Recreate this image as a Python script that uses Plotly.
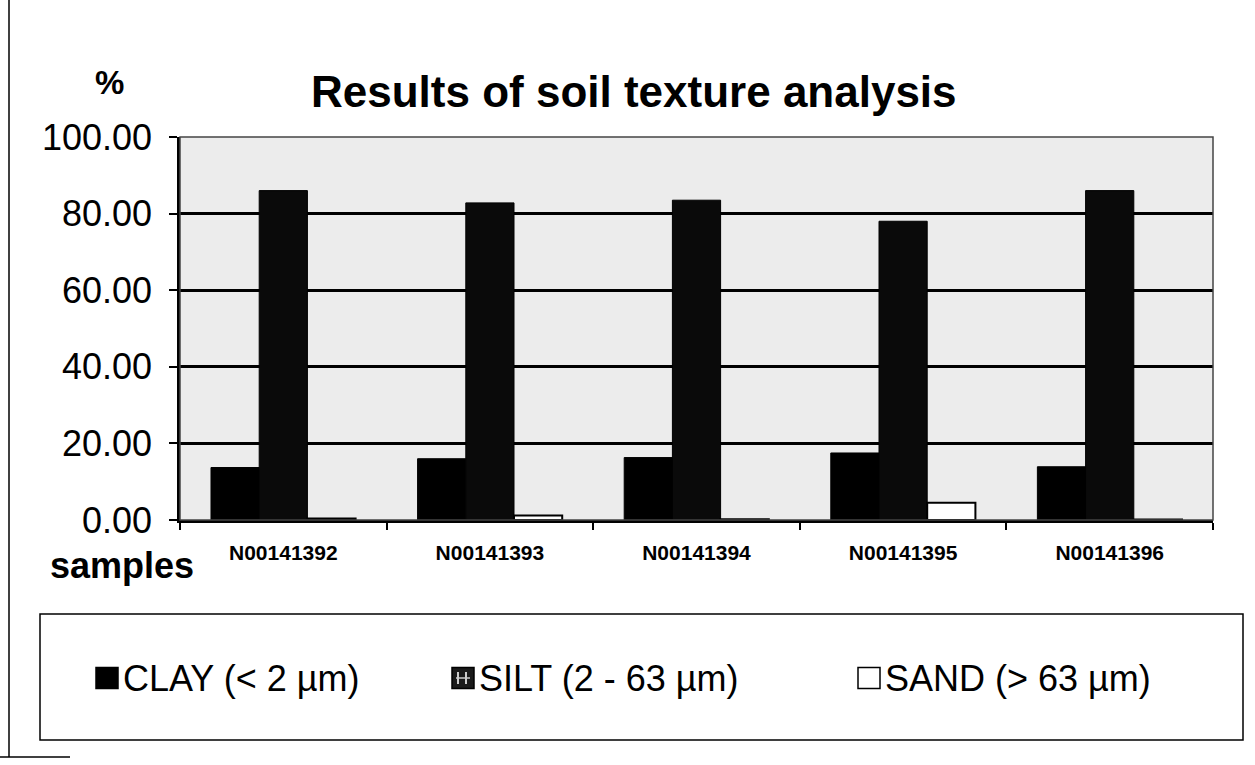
import plotly.graph_objects as go

# Soil texture fractions (%) per sample
samples = ["N00141392", "N00141393", "N00141394", "N00141395", "N00141396"]
clay = [13.7, 16.0, 16.3, 17.5, 13.9]
silt = [86.0, 82.8, 83.5, 78.0, 86.0]
sand = [0.4, 1.2, 0.2, 4.5, 0.1]
y_ticks = [0, 20, 40, 60, 80, 100]

series_names = ["CLAY (< 2 µm)", "SILT (2 - 63 µm)", "SAND (> 63 µm)"]

W, H = 1255, 765
L, R, T, B = 180, 1213, 137, 520  # plot area in pixels
FONT = "Liberation Sans, Arial, sans-serif"


def px(x):
    return (x - L) / (R - L)


def py(y):
    return (B - y) / (B - T)


fig = go.Figure()
fig.add_bar(x=samples, y=clay, name=series_names[0], marker=dict(color="#000000", line=dict(color="#000", width=1)))
fig.add_bar(x=samples, y=silt, name=series_names[1], marker=dict(color="#0a0a0a", line=dict(color="#000", width=1)))
fig.add_bar(x=samples, y=sand, name=series_names[2], marker=dict(color="#ffffff", line=dict(color="#000", width=2)))

fig.update_layout(
    width=W, height=H,
    margin=dict(l=L, r=W - R, t=T, b=H - B),
    paper_bgcolor="white",
    plot_bgcolor="#ececec",
    barmode="group", bargap=0.30, bargroupgap=0,
    showlegend=False,
    font=dict(family=FONT, color="black"),
)

fig.update_yaxes(
    range=[0, 100], tickvals=y_ticks, tickformat=".2f",
    tickfont=dict(size=36, family=FONT),
    ticks="outside", ticklen=8, tickwidth=2, tickcolor="black",
    ticklabelstandoff=10,
    showgrid=True, gridcolor="black", gridwidth=2.5,
    showline=True, linecolor="black", linewidth=2.5,
    zeroline=False,
)
fig.update_xaxes(
    tickfont=dict(size=21, family=FONT, weight="bold"),
    ticks="outside", ticklen=7, tickwidth=1.5, tickcolor="black",
    tickson="boundaries", ticklabelstandoff=12,
    showline=True, linecolor="black", linewidth=2.5,
    showgrid=False,
)

shapes = [
    # plot area border (top / right)
    dict(type="rect", xref="paper", yref="paper", x0=0, x1=1, y0=0, y1=1,
         line=dict(color="#444", width=1.5), layer="above"),
    # legend frame
    dict(type="rect", xref="paper", yref="paper", x0=px(40), x1=px(1243), y0=py(740), y1=py(614),
         line=dict(color="black", width=1.5), fillcolor="white"),
    # outer chart frame (left edge and bottom corner)
    dict(type="line", xref="paper", yref="paper", x0=px(9), x1=px(9), y0=py(0), y1=py(757),
         line=dict(color="black", width=1.5)),
    dict(type="line", xref="paper", yref="paper", x0=px(0), x1=px(70), y0=py(757), y1=py(757),
         line=dict(color="black", width=1.5)),
]

# legend swatches
legend_x = [96, 452, 858]
sw, sh = 22, 21
ly = 678
swatch_fill = ["black", "#1a1a1a", "white"]
for x0, fc in zip(legend_x, swatch_fill):
    shapes.append(dict(type="rect", xref="paper", yref="paper",
                       x0=px(x0), x1=px(x0 + sw), y0=py(ly + sh / 2), y1=py(ly - sh / 2),
                       line=dict(color="black", width=1.5), fillcolor=fc))
# pattern marks on the SILT swatch
for dx in (6, 14):
    shapes.append(dict(type="line", xref="paper", yref="paper",
                       x0=px(legend_x[1] + dx), x1=px(legend_x[1] + dx),
                       y0=py(ly + 6), y1=py(ly - 6), line=dict(color="#cccccc", width=2)))
shapes.append(dict(type="line", xref="paper", yref="paper",
                   x0=px(legend_x[1] + 4), x1=px(legend_x[1] + 18),
                   y0=py(ly), y1=py(ly), line=dict(color="#cccccc", width=1.5)))

annotations = [
    dict(text="<b>Results of soil texture analysis</b>", xref="paper", yref="paper",
         x=px(634), y=py(92), xanchor="center", yanchor="middle", showarrow=False,
         font=dict(size=44, family=FONT)),
    dict(text="<b>%</b>", xref="paper", yref="paper", x=px(109), y=py(82),
         xanchor="center", yanchor="middle", showarrow=False, font=dict(size=33, family=FONT)),
    dict(text="<b>samples</b>", xref="paper", yref="paper", x=px(196), y=py(565),
         xanchor="right", yanchor="middle", showarrow=False, font=dict(size=36, family=FONT)),
]
for x0, name in zip(legend_x, series_names):
    annotations.append(dict(text=name, xref="paper", yref="paper", x=px(x0 + sw + 3), y=py(ly),
                            xanchor="left", yanchor="middle", showarrow=False,
                            font=dict(size=36, family=FONT)))

fig.update_layout(shapes=shapes, annotations=annotations)
fig.write_html("out.html")
